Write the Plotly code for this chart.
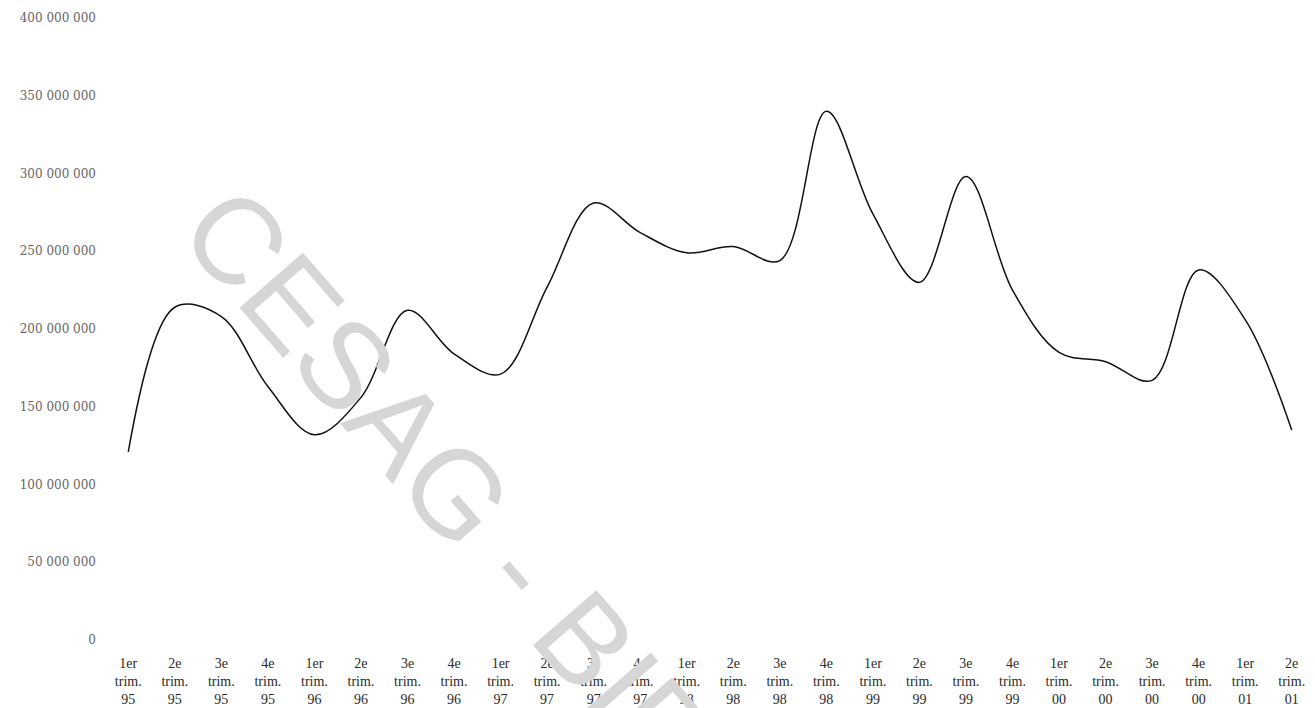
import plotly.graph_objects as go

# Quarterly labels (trimestres) from 1995 to mid-2001
quarters = [
    "1er<br>trim.<br>95", "2e<br>trim.<br>95", "3e<br>trim.<br>95", "4e<br>trim.<br>95",
    "1er<br>trim.<br>96", "2e<br>trim.<br>96", "3e<br>trim.<br>96", "4e<br>trim.<br>96",
    "1er<br>trim.<br>97", "2e<br>trim.<br>97", "3e<br>trim.<br>97", "4e<br>trim.<br>97",
    "1er<br>trim.<br>98", "2e<br>trim.<br>98", "3e<br>trim.<br>98", "4e<br>trim.<br>98",
    "1er<br>trim.<br>99", "2e<br>trim.<br>99", "3e<br>trim.<br>99", "4e<br>trim.<br>99",
    "1er<br>trim.<br>00", "2e<br>trim.<br>00", "3e<br>trim.<br>00", "4e<br>trim.<br>00",
    "1er<br>trim.<br>01", "2e<br>trim.<br>01",
]

# Quarterly amounts
amounts = [
    121_000_000, 214_000_000, 208_000_000, 163_000_000,
    132_000_000, 156_000_000, 212_000_000, 184_000_000,
    171_000_000, 227_000_000, 281_000_000, 262_000_000,
    249_000_000, 253_000_000, 244_000_000, 340_000_000,
    274_000_000, 230_000_000, 298_000_000, 225_000_000,
    185_000_000, 179_000_000, 167_000_000, 238_000_000,
    206_000_000, 135_000_000,
]

# Y-axis ticks
y_ticks = [0, 50_000_000, 100_000_000, 150_000_000, 200_000_000,
           250_000_000, 300_000_000, 350_000_000, 400_000_000]
y_tick_labels = ["0", "50 000 000", "100 000 000", "150 000 000", "200 000 000",
                 "250 000 000", "300 000 000", "350 000 000", "400 000 000"]

positions = list(range(len(quarters)))

fig = go.Figure()
fig.add_trace(go.Scatter(
    x=positions,
    y=amounts,
    mode="lines",
    line=dict(color="#111111", width=1.5, shape="spline", smoothing=1.0),
    hoverinfo="skip",
    showlegend=False,
))

fig.update_layout(
    width=1315,
    height=708,
    margin=dict(l=105, r=0, t=18, b=68),
    paper_bgcolor="white",
    plot_bgcolor="white",
    font=dict(family="Liberation Serif, DejaVu Serif, serif", color="#333333"),
    xaxis=dict(
        range=[-0.5, len(quarters) - 0.5],
        tickmode="array",
        tickvals=positions,
        ticktext=quarters,
        showgrid=False,
        zeroline=False,
        showline=False,
        ticks="",
        ticklabelstandoff=13,
        tickfont=dict(family="Liberation Serif, serif", size=14, color="#2a2a2a"),
    ),
    yaxis=dict(
        range=[0, 400_000_000],
        tickmode="array",
        tickvals=y_ticks,
        ticktext=y_tick_labels,
        showgrid=False,
        zeroline=False,
        showline=False,
        ticks="",
        ticklabelstandoff=8,
        tickfont=dict(family="DejaVu Serif, serif", size=12, color="#666666"),
    ),
    annotations=[
        dict(
            text="CESAG - BIBLIOTHEQUE",
            xref="paper", yref="paper",
            x=(678 - 105) / 1210, y=(640 - 748) / 622,
            xanchor="center", yanchor="middle",
            textangle=49,
            showarrow=False,
            font=dict(family="Liberation Sans, Arial, sans-serif", size=122,
                      color="#d6d6d6"),
        )
    ],
)

fig.write_html("out.html")
